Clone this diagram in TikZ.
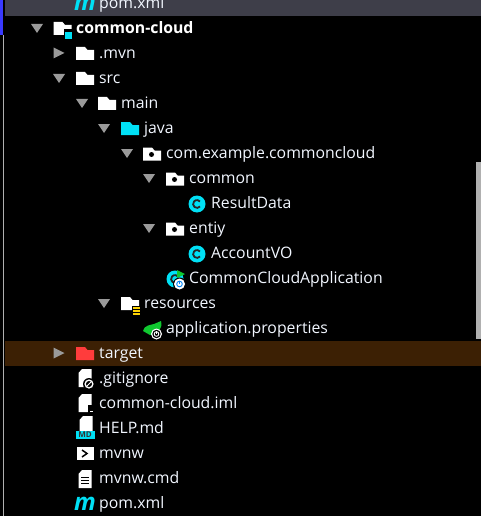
\documentclass[tikz,border=0pt]{standalone}
\usepackage{fontspec}
\setmainfont{Open Sans}
\definecolor{FondoFila}{HTML}{3E3E49}
\definecolor{FilaTarget}{HTML}{3C2004}
\definecolor{Barra}{HTML}{3A3AFF}
\definecolor{Cian}{HTML}{00E0F5}
\definecolor{Flecha}{HTML}{9A9A9A}
\definecolor{Verde}{HTML}{10C830}
\definecolor{Rojo}{HTML}{FF3C3C}
\definecolor{Texto}{HTML}{F2F7FF}
\definecolor{Scroll}{HTML}{B0B0B0}
\begin{document}
\begin{tikzpicture}[
    x=1pt,y=-1pt,
    fila/.style={anchor=west,inner sep=0pt,yshift=-1.2pt,text=Texto,font=\fontsize{15.8}{18}\selectfont,text height=11pt,text depth=3pt},
    negrita/.style={fila,text=white,font=\fontsize{15.8}{18}\selectfont\bfseries},
    letra/.style={inner sep=0pt,text=Cian,font=\fontsize{24}{24}\selectfont\bfseries\itshape},
    abierto/.pic={\fill[Flecha] (-6,-4.5) -- (6,-4.5) -- (0,4.5) -- cycle;},
    cerrado/.pic={\fill[Flecha] (-5.5,-5.5) -- (5.5,0) -- (-5.5,5.5) -- cycle;},
    carpeta/.pic={\fill[#1] (-9,-6.5) -- (0,-6.5) -- (2.5,-3.5) -- (9,-3.5) -- (9,6.5) -- (-9,6.5) -- cycle;},
    paquete/.pic={\fill[white] (-9,-6.5) -- (0,-6.5) -- (2.5,-3.5) -- (9,-3.5) -- (9,6.5) -- (-9,6.5) -- cycle;
      \fill[black] (-0.5,0.5) circle (2.5);},
    clase/.pic={\fill[Cian] (0,0) circle (8.5);
      \draw[black!85,line width=1.8pt] (3,2.5) arc[start angle=40,end angle=320,radius=3.9];},
    insignia/.pic={\fill[white] (0,0) circle (5.5);
      \fill[black] (0,0) circle (4.2);
      \draw[white,line width=0.9pt] (0,0) circle (2.3);
      \draw[white,line width=0.9pt] (0,-3) -- (0,0);},
    insigniaclara/.pic={\fill[black] (0,0) circle (6.5);
      \fill[white] (0,0) circle (5.5);
      \draw[Cian!60!blue,line width=0.9pt] (0,0) circle (2.8);
      \draw[Cian!60!blue,line width=0.9pt] (0,-3.5) -- (0,0);},
    hoja/.pic={\fill[white] (-3,-9) -- (6.5,-9) -- (6.5,9) -- (-6.5,9) -- (-6.5,-5) -- cycle;},
  ]
    \path[use as bounding box,clip] (0,0) rectangle (481,516);
    % fondos
    \fill[black] (0,0) rectangle (481,516);
    \fill[Barra] (0,0) rectangle (3.3,35);
    \fill[Scroll] (3,35) rectangle (4,516);
    \fill[FondoFila] (5,0) rectangle (481,16);
    \fill[FilaTarget] (5,341) rectangle (481,366);
    \fill[Scroll] (476,162) rectangle (481,339);
    % arbol de carpetas
    \node[letra] (pomarribam) at (85,4) {m};
    \node[fila] (pomarriba) at (99,3) {pom.xml};
    \pic at (37,28.5) {abierto};
    \pic at (62.5,28.5) {carpeta=white};
    \fill[black] (63.5,29) rectangle (73,40);
    \fill[Cian] (65,32) rectangle (72,39);
    \node[negrita] (commoncloud) at (76,28) {common-cloud};
    \pic at (59,53) {cerrado};
    \pic at (85,53.5) {carpeta=white};
    \node[fila] (mvn) at (99,53) {.mvn};
    \pic at (59,78.5) {abierto};
    \pic at (85,78.5) {carpeta=white};
    \node[fila] (src) at (99,78) {src};
    \pic at (82,103.5) {abierto};
    \pic at (107,103.5) {carpeta=white};
    \node[fila] (main) at (121,103) {main};
    \pic at (104,128.5) {abierto};
    \pic at (130,128.5) {carpeta=Cian};
    \node[fila] (java) at (144,128) {java};
    \pic at (127,153.5) {abierto};
    \pic at (152,154) {paquete};
    \node[fila] (paquetecom) at (166,153) {com.example.commoncloud};
    \pic at (149,178.5) {abierto};
    \pic at (175,179) {paquete};
    \node[fila] (common) at (189,178) {common};
    \pic at (197,204) {clase};
    \node[fila] (resultdata) at (211,203) {ResultData};
    \pic at (149,228.5) {abierto};
    \pic at (175,229) {paquete};
    \node[fila] (entiy) at (189,228) {entiy};
    \pic at (197,254) {clase};
    \node[fila] (accountvo) at (211,253) {AccountVO};
    % clase principal
    \pic at (175,279) {clase};
    \fill[Verde] (177,270) -- (177,278) -- (185,274) -- cycle;
    \pic at (179.5,284) {insigniaclara};
    \node[fila] (application) at (189,278) {CommonCloudApplication};
    % recursos
    \pic at (104,303.5) {abierto};
    \pic at (130,303.5) {carpeta=white};
    \fill[black] (131.5,305.5) rectangle (141,316);
    \foreach \y in {307,310,313} {\fill[yellow!70!orange] (132.5,\y) rectangle (140,\y+1.8);}
    \node[fila] (resources) at (144,303) {resources};
    \fill[Verde] (143,331) .. controls (144,325) and (151,325) .. (154,324) -- (161,321) .. controls (163,328) and (158,335) .. (150,335) -- cycle;
    \pic at (156.5,334) {insignia};
    \node[fila] (properties) at (166,328) {application.properties};
    % resto
    \pic at (59,353) {cerrado};
    \pic at (85,353.5) {carpeta=Rojo};
    \node[fila] (target) at (99,353) {target};
    \pic at (85,378) {hoja};
    \fill[black] (89,384) circle (6);
    \fill[white] (89,384) circle (4.6);
    \fill[black] (89,384) circle (3);
    \draw[white,line width=0.9pt] (87,386) -- (91,382);
    \node[fila] (gitignore) at (99,378) {.gitignore};
    \pic at (85,403) {hoja};
    \fill[black] (88,405) rectangle (92,413);
    \fill[white] (90,410.5) rectangle (93,411.5);
    \node[fila] (iml) at (99,403) {common-cloud.iml};
    \pic at (86,425) {hoja};
    \fill[Cian] (76,431) rectangle (95,439);
    \node[inner sep=0pt,font=\fontsize{8}{8}\selectfont\bfseries,text=black!80] (md) at (85,435) {MD};
    \node[fila] (help) at (99,428) {HELP.md};
    \fill[white] (77,447) rectangle (94,460);
    \draw[black,line width=1.5pt] (82,450) -- (87,453.5) -- (82,457);
    \node[fila] (mvnw) at (99,453) {mvnw};
    \pic at (85,479) {hoja};
    \foreach \y in {477,480,483} {\draw[black,line width=0.9pt] (81,\y) -- (89,\y);}
    \node[fila] (mvnwcmd) at (99,478) {mvnw.cmd};
    \node[letra] (pomabajom) at (85,504) {m};
    \node[fila] (pomabajo) at (99,503) {pom.xml};
  \end{tikzpicture}
\end{document}
